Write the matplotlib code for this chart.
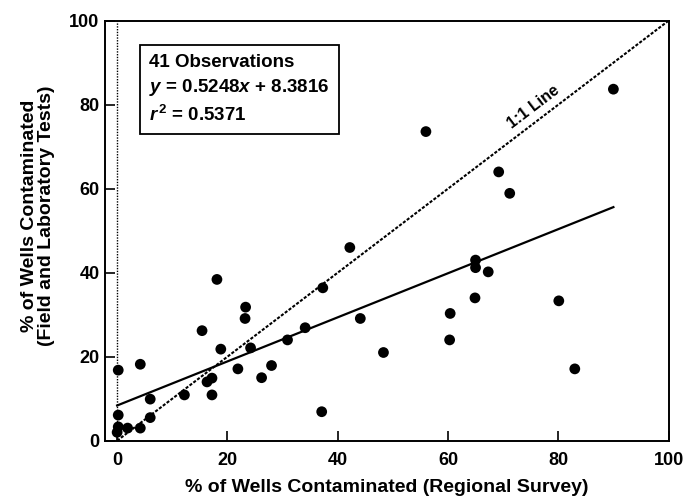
import numpy as np
import matplotlib

matplotlib.use("Agg")
import matplotlib.pyplot as plt
from matplotlib import font_manager

# regional survey (x) vs field/laboratory tests (y), % of wells contaminated
regional = [90.0, 69.2, 71.2, 56.0, 80.1, 83.0, 42.2, 37.3, 65.0, 65.0,
            67.3, 64.9, 60.4, 60.3, 44.1, 34.1, 30.9, 48.3, 37.1, 18.1,
            23.3, 23.2, 15.4, 18.8, 24.2, 21.9, 28.0, 26.2, 4.2, 0.2,
            16.3, 17.2, 17.2, 12.2, 6.0, 6.0, 0.2, 0.2, 0.0, 1.9, 4.2]
field_lab = [83.7, 64.0, 58.9, 73.6, 33.3, 17.1, 46.0, 36.4, 43.0, 41.2,
             40.2, 34.0, 30.3, 24.0, 29.1, 26.9, 24.0, 21.0, 6.9, 38.4,
             31.8, 29.1, 26.2, 21.8, 22.1, 17.1, 17.9, 15.0, 18.2, 16.8,
             14.0, 14.9, 10.9, 10.9, 9.9, 5.5, 6.1, 3.3, 2.0, 3.0, 3.0]

SLOPE = 0.5248
INTERCEPT = 8.3816
R2 = 0.5371

# prefer a condensed sans if one is around
installed = {f.name for f in font_manager.fontManager.ttflist}
FONT = "Liberation Sans Narrow" if "Liberation Sans Narrow" in installed else "Liberation Sans"

plt.rcParams["font.family"] = [FONT, "DejaVu Sans"]
plt.rcParams["font.weight"] = "bold"
plt.rcParams["axes.labelweight"] = "bold"
plt.rcParams["mathtext.fontset"] = "custom"
plt.rcParams["mathtext.rm"] = f"{FONT}:bold"
plt.rcParams["mathtext.it"] = f"{FONT}:italic:bold"

fig = plt.figure(figsize=(6.94, 5.04), dpi=100)
ax = fig.add_axes([0.1513, 0.1256, 0.812, 0.8333])

# reference lines: x = 0 and 1:1
ax.plot([0, 0], [0, 100], color="black", lw=1.0, ls=(0, (1, 1)), zorder=1)
ax.plot([0, 100], [0, 100], color="black", lw=1.5, ls=(0, (1.5, 0.8)), zorder=1)

# fitted regression line over the observed range
xs = np.array([0, max(regional)])
ax.plot(xs, SLOPE * xs + INTERCEPT, color="black", lw=1.6, zorder=2)

ax.scatter(regional, field_lab, s=60, color="black", edgecolors="none", zorder=3)

ax.text(75.5, 79.5, "1:1 Line", rotation=37.3, rotation_mode="anchor",
        ha="center", va="center", fontsize=11.5)

ax.text(0.078, 0.92,
        f"{len(regional)} Observations\n"
        f"$y$ = {SLOPE}$x$ + {INTERCEPT}\n"
        f"$r$$^{{\\,2}}$ = {R2}",
        transform=ax.transAxes, ha="left", va="top", fontsize=13.5,
        linespacing=1.4,
        bbox=dict(boxstyle="square,pad=0.5", fc="white", ec="black", lw=1.3))

ax.set_xlim(-2.2, 100)
ax.set_ylim(0, 100)
ax.set_xticks([0, 20, 40, 60, 80, 100])
ax.set_yticks([0, 20, 40, 60, 80, 100])
ax.tick_params(direction="in", length=7, width=1.2, labelsize=13)
ax.tick_params(axis="x", pad=8)
ax.tick_params(axis="y", pad=4)
for sp in ax.spines.values():
    sp.set_linewidth(1.4)

ax.set_xlabel("% of Wells Contaminated (Regional Survey)", fontsize=14, labelpad=7)
ax.set_ylabel("% of Wells Contaminated\n(Field and Laboratory Tests)",
              fontsize=14, linespacing=1.0)
ax.yaxis.set_label_coords(-0.088, 0.535)

fig.savefig("out.png", dpi=100)
